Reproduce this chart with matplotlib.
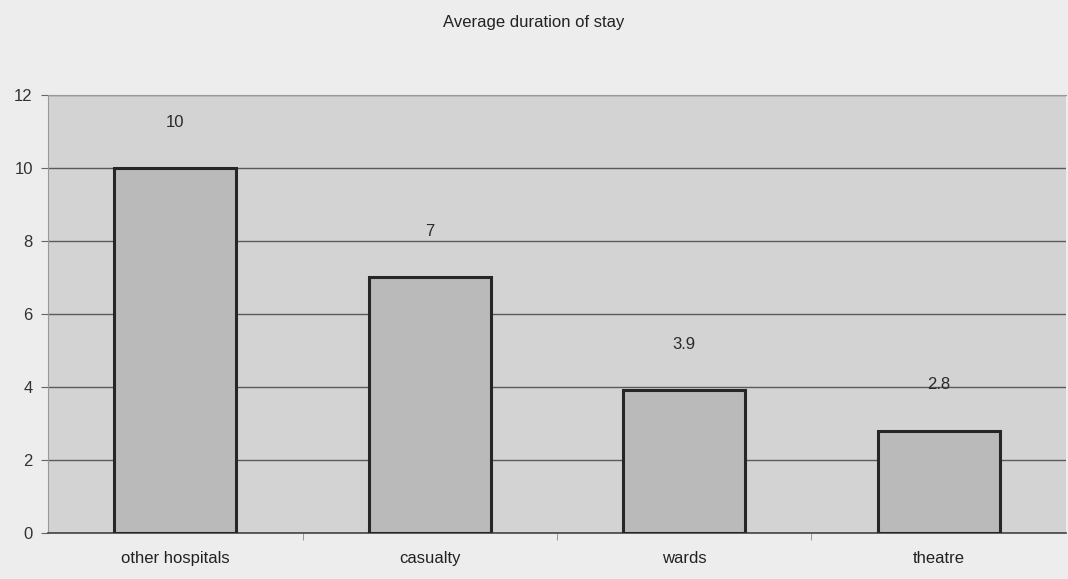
import matplotlib.pyplot as plt

categories = ['other hospitals', 'casualty', 'wards', 'theatre']
values = [10, 7, 3.9, 2.8]
labels = ['10', '7', '3.9', '2.8']
yticks = [0, 2, 4, 6, 8, 10, 12]

plt.rcParams['font.family'] = ['Liberation Sans', 'DejaVu Sans']

fig = plt.figure(figsize=(10.68, 5.79), dpi=100, facecolor='#ededed')
ax = fig.add_axes([0.045, 0.08, 0.953, 0.756])
ax.set_facecolor('#d3d3d3')

x = range(len(categories))
ax.bar(x, values, width=0.48, color='#bababa', edgecolor='#262626', linewidth=2.2, zorder=3)

for i, (v, lab) in enumerate(zip(values, labels)):
    ax.text(i, v + 1.25, lab, ha='center', va='center', fontsize=12, color='#2a2a2a', zorder=4)

ax.set_xlim(-0.5, len(categories) - 0.5)
ax.set_ylim(0, 12)
ax.set_yticks(yticks)
ax.set_yticklabels([str(t) for t in yticks], fontsize=12, color='#333333')
ax.yaxis.grid(True, color='#5a5a5a', linewidth=1.0, zorder=1)

# category labels centred, tick marks between categories
ax.set_xticks(list(x))
ax.set_xticklabels(categories, fontsize=12, color='#222222')
ax.tick_params(axis='x', length=0, pad=13)
ax.set_xticks([0.5, 1.5, 2.5], minor=True)
ax.tick_params(axis='x', which='minor', length=5, color='#888888')
ax.tick_params(axis='y', length=5, color='#666666', pad=6)

for side in ['left', 'top']:
    ax.spines[side].set_color('#999999')
ax.spines['bottom'].set_color('#444444')
ax.spines['bottom'].set_linewidth(1.2)
ax.spines['right'].set_visible(False)

fig.text(0.5, 0.962, 'Average duration of stay', ha='center', va='center', fontsize=12, color='#222222')

fig.savefig('out.png', dpi=100, facecolor=fig.get_facecolor())
